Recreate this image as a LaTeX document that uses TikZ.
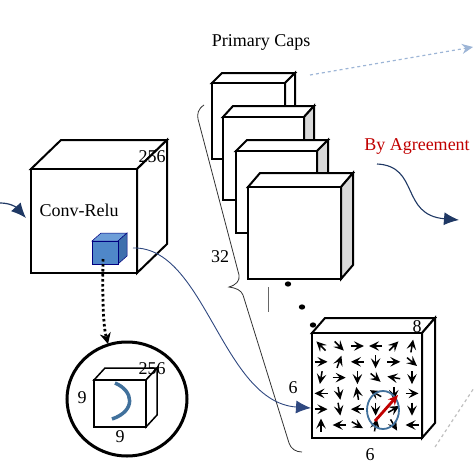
\documentclass[tikz,border=0pt]{standalone}
\usepackage{fontspec}
\setmainfont{Liberation Serif}
\usetikzlibrary{arrows.meta, calc}

\definecolor{navy}{RGB}{31,56,100}
\definecolor{linkblue}{RGB}{47,72,128}
\definecolor{capsred}{RGB}{192,0,0}
\definecolor{steel}{RGB}{65,113,156}
\definecolor{sidegray}{RGB}{217,217,217}
\definecolor{paleblue}{RGB}{157,181,214}
\definecolor{cubeblue}{RGB}{79,135,201}
\definecolor{cubetop}{RGB}{110,158,216}
\definecolor{cubeside}{RGB}{62,111,173}

% [style]{x1}{y1}{x2}{y2}{dx}{dy}{side fill}{top fill}
\newcommand{\capsbox}[9][box]{%
  \draw [#1, fill=#9] (#2,#3) -- ++(#6,-#7) -- ++({#4-#2},0) -- (#4,#3) -- cycle;
  \draw [#1, fill=#8] (#4,#3) -- ++(#6,-#7) -- ++(0,{#5-#3}) -- (#4,#5) -- cycle;
  \draw [#1] (#2,#3) rectangle (#4,#5);
}

\begin{document}
\begin{tikzpicture}[x=1pt, y=-1pt, font=\fontsize{18}{21}\selectfont,
    box/.style={line width=2pt, fill=white},
    vec/.style={-{Stealth[length=10pt, width=9.5pt, inset=4pt]}, line width=1.5pt},
    link/.style={-{Latex[length=15pt, width=13pt]}, draw=linkblue, line width=0.9pt}]
    \useasboundingbox (0,0) rectangle (474,474);

    % input and Conv-Relu layer
    \coordinate (in) at (0,203);
    \coordinate (convIn) at (26,218);
    \draw [link, draw=navy, line width=1.2pt] (in) .. controls (10,203) and (16,207) .. (convIn);
    \capsbox{31}{169}{137}{273}{30}{29}{white}{white}
    \node (convlabel) at (79,210) {Conv-Relu};
    \node (convdepth) at (152,157) {256};
    \capsbox[draw=blue!50!black, line width=0.5pt, fill=cubeblue]{92}{241}{118}{264}{9}{8}{cubeside}{cubetop}
    \coordinate (kernel) at (103,259);
    \coordinate (kernelOut) at (133,248);

    % zoomed kernel
    \coordinate (lensTop) at (108,344);
    \draw [-{Stealth[length=11pt, width=11pt]}, line width=2.8pt, dash pattern=on 2.5pt off 2.5pt]
        (kernel) .. controls (102,320) and (105,332) .. (lensTop);
    \draw [line width=3pt] (127,399) ellipse (60 and 57);
    \capsbox[line width=1.5pt, fill=white]{94}{380}{146}{427}{11}{12}{white}{white}
    \draw [steel, line width=3.5pt] (115,383) .. controls (134,391) and (136,411) .. (112,419);
    \node (kD) at (152,369) {256};
    \node (kH) at (82,398) {9};
    \node (kW) at (120,437) {9};

    % primary capsules
    \node (title) at (261,42) {Primary Caps};
    \capsbox{212}{83}{285}{159}{10}{10}{white}{white}
    \capsbox{223}{117}{304}{200}{10}{11}{sidegray}{white}
    \capsbox{236}{151}{317}{233}{11}{11}{sidegray}{white}
    \capsbox{248}{187}{341}{279}{12}{14}{sidegray}{white}
    \draw [black!80, line width=0.8pt] (204,105) .. controls (198,109) and (197,114) .. (198,119)
        -- (239,275) .. controls (240,281) and (236,285) .. (229,287)
        .. controls (236,288) and (241,290) .. (243,295)
        -- (289,443) .. controls (291,449) and (296,452) .. (302,452);
    \node (ncaps) at (220,257) {32};
    \draw [black!60, line width=0.8pt] (268,287) -- (268,312);
    \foreach \p in {(288,284), (302,307), (313,325)}
        \fill \p ellipse (3.2 and 2.6);

    % one capsule grid
    \capsbox{312}{333}{422}{438}{13}{15}{white}{white}
    \foreach \row [count=\j] in {{135,-45,0,180,45,80},{0,70,180,-90,0,-40},{-100,0,-90,-40,170,-90},{180,-80,100,150,-90,0},{0,-80,180,-90,30,-90},{90,180,-30,80,-60,180}}
        \foreach \a [count=\i] in \row
            \draw [vec] ({321+18.2*(\i-1)-6.5*cos(\a)},{346+15.8*(\j-1)+6.5*sin(\a)}) -- ++({13*cos(\a)},{-13*sin(\a)});
    \draw [steel, line width=1.8pt] (383,410) ellipse (16 and 19);
    \coordinate (capTail) at (375,421);
    \coordinate (capHead) at (398,395);
    \draw [-{Stealth[length=10pt, width=9pt]}, capsred, line width=2.8pt] (capTail) -- (capHead);
    \node (capD) at (417,327) {8};
    \node (capH) at (293,388) {6};
    \node (capW) at (370,455) {6};

    % links
    \coordinate (capIn) at (311,408);
    \draw [link] (kernelOut) .. controls (205,246) and (222,402) .. (capIn);
    \node (agree) [capsred] at (417,146) {By Agreement};
    \coordinate (agreeFrom) at (377,164);
    \coordinate (agreeTo) at (459,220);
    \draw [link, draw=navy, line width=1.1pt] (agreeFrom) .. controls (420,166) and (400,215) .. (agreeTo);
    \coordinate (dashFrom) at (310,75);
    \coordinate (dashTo) at (473,47);
    \draw [-{Stealth[length=11pt, width=10pt]}, paleblue, dashed, line width=1.2pt] (dashFrom) -- (dashTo);
    \coordinate (grayFrom) at (435,447);
    \coordinate (grayTo) at (474,388);
    \draw [black!25, dashed, line width=1.2pt] (grayFrom) -- (grayTo);
\end{tikzpicture}
\end{document}
